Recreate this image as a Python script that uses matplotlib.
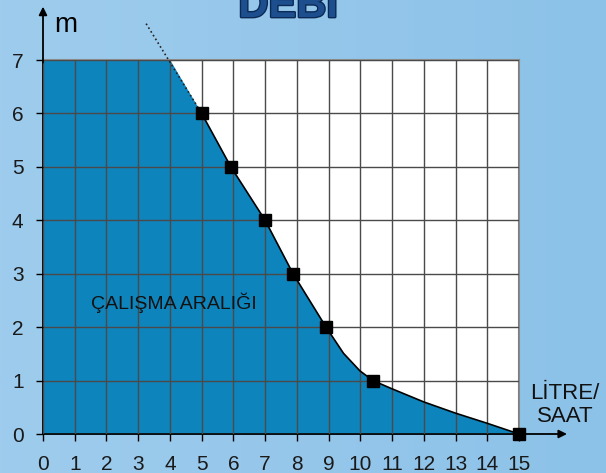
import matplotlib.pyplot as plt
import matplotlib.patheffects as pe
import numpy as np

plt.rcParams['font.family'] = ['Liberation Sans', 'DejaVu Sans']

# === Datos ===
x_ticks = list(range(0, 16))
y_ticks = list(range(0, 8))

# puntos con marcador (caudal, altura)
pts_x = [5, 5.92, 7, 7.88, 8.92, 10.4, 15]
pts_y = [6, 5, 4, 3, 2, 1, 0]

# curva completa (marcadores + puntos intermedios leidos)
curve_x = [5, 5.92, 7, 7.88, 8.92, 9.47, 9.99, 10.4, 10.94, 12, 13, 14, 15]
curve_y = [6, 5, 4, 3, 2, 1.51, 1.18, 1, 0.86, 0.6, 0.39, 0.2, 0]

# tramo punteado superior
dot_x = [3.25, 5]
dot_y = [7.68, 6]

# area de trabajo
fill_x = [0, 4] + curve_x
fill_y = [7, 7] + curve_y

fig = plt.figure(figsize=(6.06, 4.73), dpi=100)

# === Fondo degradado ===
bg = fig.add_axes([0, 0, 1, 1])
grad = np.linspace(0, 1, 256)
img = np.zeros((2, 256, 3))
c0 = np.array([0.62, 0.80, 0.93])
c1 = np.array([0.55, 0.76, 0.91])
for i in range(3):
    img[:, :, i] = c0[i] + (c1[i] - c0[i]) * grad
bg.imshow(img, aspect='auto', extent=[0, 1, 0, 1])
bg.set_axis_off()

ax = fig.add_axes([43 / 606, 39 / 473, 476 / 606, 374 / 473])
ax.set_facecolor('white')

ax.fill_between(fill_x, fill_y, 0, color='#0E84BC', linewidth=0, zorder=1)
ax.plot(curve_x, curve_y, color='black', linewidth=1.2, zorder=3)
ax.plot(dot_x, dot_y, color='#222222', linewidth=1.2, linestyle=':', zorder=3, clip_on=False)
ax.plot(pts_x, pts_y, 's', color='black', markersize=8, zorder=4, clip_on=False)

ax.set_xlim(0, 15)
ax.set_ylim(0, 7)
ax.set_xticks(x_ticks)
ax.set_yticks(y_ticks)
ax.set_axisbelow(False)
ax.grid(True, color='#4a4a4a', linewidth=1.0, zorder=2.5)

for s in ['top', 'right']:
    ax.spines[s].set_color('#8a8a8a')
    ax.spines[s].set_linewidth(1.5)
for s in ['left', 'bottom']:
    ax.spines[s].set_color('black')
    ax.spines[s].set_linewidth(1.3)

ax.tick_params(axis='x', length=5, width=1, pad=10, labelsize=15, labelcolor='#1a1a1a', direction='out')
ax.tick_params(axis='y', length=5, width=1, pad=9, labelsize=15, labelcolor='#1a1a1a', direction='out')

# === Flechas de ejes ===
ax.annotate('', xy=(0, 8.05), xytext=(0, 6.9), annotation_clip=False,
            arrowprops=dict(arrowstyle='-|>', color='black', lw=1.3, mutation_scale=12))
ax.annotate('', xy=(16.6, 0), xytext=(14.9, 0), annotation_clip=False,
            arrowprops=dict(arrowstyle='-|>', color='black', lw=1.3, mutation_scale=12))

# === Textos ===
ax.text(0.35, 7.65, 'm', fontsize=20, color='black', va='center', ha='left')
ax.text(1.5, 2.45, 'ÇALIŞMA ARALIĞI', fontsize=14, color='#111111', va='center', ha='left', zorder=5)
fig.text(565 / 606, 1 - 405 / 473, 'LİTRE/\nSAAT', fontsize=16, color='#111111',
         ha='center', va='center', linespacing=1.1)

fig.text(288 / 606, 1 - 17 / 473, 'DEBİ', fontsize=30, fontweight='bold', color='#1D4F8F',
         ha='center', va='baseline',
         path_effects=[pe.withStroke(linewidth=2, foreground='#0B2A55')])

plt.savefig('out.png', dpi=100)
